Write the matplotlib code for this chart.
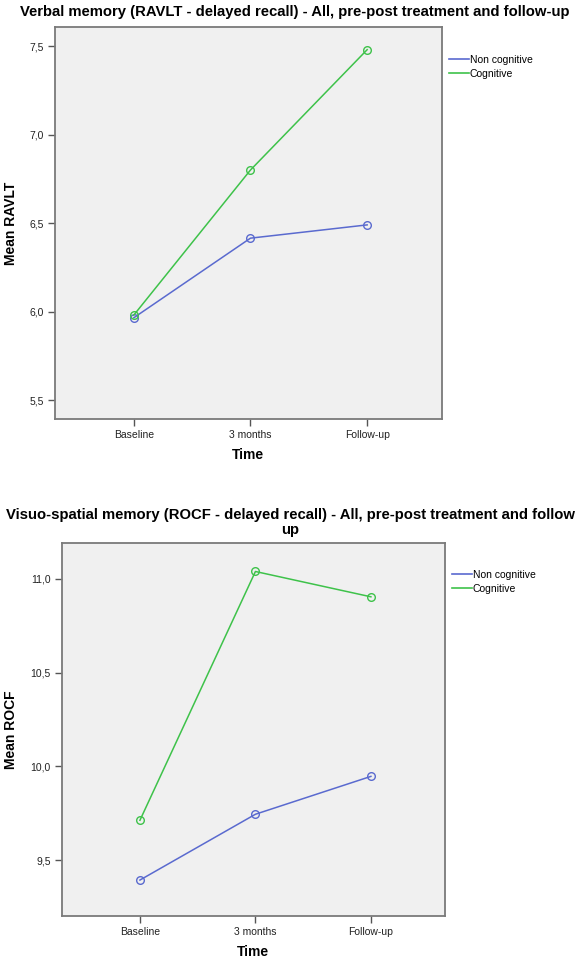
import numpy as np
from matplotlib import pyplot as plt
from matplotlib.lines import Line2D

plt.rcParams['font.family'] = ['Liberation Sans', 'DejaVu Sans']

# %% data
times = ['Baseline', '3 months', 'Follow-up']
groups = ['Non cognitive', 'Cognitive']

ravlt_noncog = [5.965, 6.415, 6.49]
ravlt_cog = [5.98, 6.80, 7.48]

rocf_noncog = [9.394, 9.745, 9.947]
rocf_cog = [9.713, 11.04, 10.905]

blue = '#5a6acf'
green = '#3ec24a'
x = np.arange(len(times))


def draw(ax, noncog, cog, ylabel, yticks, ylim, ylab_x):
    ax.set_facecolor('#f0f0f0')
    for vals, col, lab in [(noncog, blue, groups[0]), (cog, green, groups[1])]:
        ax.plot(x, vals, color=col, lw=1.1, marker='o', ms=5.5,
                mfc='none', mec=col, mew=1.0, label=lab)
    ax.set_xlim(-0.675, 2.64)
    ax.set_ylim(*ylim)
    ax.set_xticks(x)
    ax.set_xticklabels(times)
    ax.set_yticks(yticks)
    ax.set_yticklabels([('%.1f' % v).replace('.', ',') for v in yticks])
    ax.tick_params(direction='out', length=5, width=1, color='#555555',
                   labelsize=7.5, labelcolor='#222222', pad=3)
    for s in ax.spines.values():
        s.set_color('#7a7a7a')
        s.set_linewidth(1.3)
    ax.set_xlabel('Time', fontsize=10, fontweight='bold', labelpad=5.5)
    ax.set_ylabel(ylabel, fontsize=10, fontweight='bold')
    ax.yaxis.set_label_coords(ylab_x, 0.5)
    handles = [Line2D([], [], color=blue, lw=1.2),
               Line2D([], [], color=green, lw=1.2)]
    ax.legend(handles, groups, loc='upper left', bbox_to_anchor=(1.0, 0.948),
              frameon=False, fontsize=7.5, handlelength=1.9, handletextpad=0.1,
              labelspacing=0.35, borderaxespad=0.3)


fig = plt.figure(figsize=(5.8, 9.58), dpi=100)

ax1 = fig.add_axes([0.0948, 0.5626, 0.667, 0.409])
draw(ax1, ravlt_noncog, ravlt_cog, 'Mean RAVLT',
     [5.5, 6.0, 6.5, 7.0, 7.5], (5.393, 7.607), -0.096)
fig.text(0.508, 0.9875, 'Verbal memory (RAVLT - delayed recall) - All, pre-post treatment and follow-up',
         ha='center', va='center', fontsize=10.7, fontweight='bold')

ax2 = fig.add_axes([0.1069, 0.0438, 0.660, 0.389])
draw(ax2, rocf_noncog, rocf_cog, 'Mean ROCF',
     [9.5, 10.0, 10.5, 11.0], (9.202, 11.19), -0.115)
fig.text(0.5, 0.4545, 'Visuo-spatial memory (ROCF - delayed recall) - All, pre-post treatment and follow\nup',
         ha='center', va='center', fontsize=10.7, fontweight='bold',
         multialignment='center', linespacing=1.05)

plt.savefig('out.png', dpi=100)
